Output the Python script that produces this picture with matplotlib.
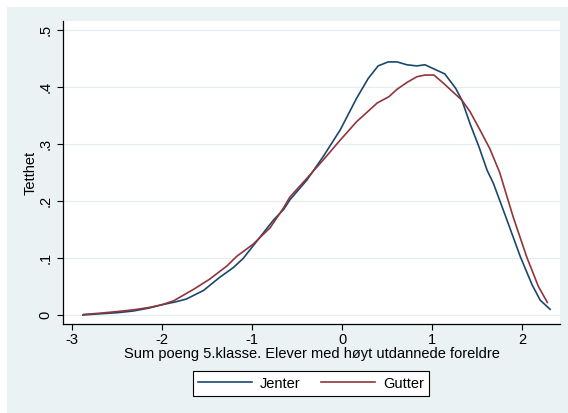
import matplotlib
matplotlib.use("Agg")
import matplotlib.pyplot as plt
from matplotlib.patches import Rectangle
import numpy as np

plt.rcParams['font.family'] = ['Liberation Sans', 'DejaVu Sans']

# Kernel density estimates, score sum grade 5, pupils with highly educated parents
jenter_x = [-2.88, -2.7, -2.5, -2.32, -2.15, -2.0, -1.85, -1.73, -1.54, -1.36, -1.21,
            -1.1, -1.02, -0.91, -0.76, -0.65, -0.58, -0.39, -0.21, -0.02, 0.16, 0.29,
            0.40, 0.51, 0.61, 0.72, 0.83, 0.92, 1.03, 1.14, 1.26, 1.33, 1.42, 1.52,
            1.61, 1.68, 1.83, 1.98, 2.11, 2.2, 2.31]
jenter_y = [0.0, 0.002, 0.004, 0.007, 0.012, 0.018, 0.023, 0.028, 0.043, 0.066, 0.083,
            0.099, 0.115, 0.137, 0.167, 0.185, 0.202, 0.237, 0.278, 0.325, 0.380, 0.415,
            0.437, 0.444, 0.444, 0.439, 0.437, 0.439, 0.431, 0.423, 0.398, 0.377, 0.336, 0.295,
            0.254, 0.231, 0.167, 0.102, 0.053, 0.026, 0.010]

gutter_x = [-2.87, -2.7, -2.5, -2.32, -2.15, -2.0, -1.87, -1.65, -1.47, -1.28, -1.17,
            -0.99, -0.8, -0.65, -0.58, -0.39, -0.21, -0.02, 0.16, 0.39, 0.52, 0.61,
            0.72, 0.83, 0.92, 1.02, 1.13, 1.24, 1.33, 1.42, 1.53, 1.64, 1.75, 1.90,
            2.05, 2.18, 2.28]
gutter_y = [0.001, 0.003, 0.006, 0.009, 0.013, 0.018, 0.025, 0.045, 0.063, 0.086, 0.103,
            0.124, 0.153, 0.188, 0.207, 0.240, 0.272, 0.307, 0.339, 0.372, 0.383, 0.396,
            0.408, 0.418, 0.421, 0.421, 0.406, 0.390, 0.377, 0.357, 0.325, 0.292, 0.250, 0.172,
            0.102, 0.050, 0.022]

x_ticks = [-3, -2, -1, 0, 1, 2]
x_ticklabels = ['-3', '-2', '-1', '0', '1', '2']
y_ticks = [0, 0.1, 0.2, 0.3, 0.4, 0.5]
y_ticklabels = ['0', '.1', '.2', '.3', '.4', '.5']

W, H = 568, 413
FS = 10.5
fig = plt.figure(figsize=(W / 100, H / 100), dpi=100)
fig.patch.set_facecolor('white')

BG = '#EAF2F3'
fig.patches.append(Rectangle((7 / W, 0), 1 - 7 / W, (H - 7) / H,
                             transform=fig.transFigure, facecolor=BG,
                             edgecolor='none', zorder=-5))

left, right, top, bottom = 63, 560, 21, 324
ax = fig.add_axes([left / W, (H - bottom) / H, (right - left) / W, (bottom - top) / H])
ax.set_facecolor('white')

NAVY = '#1A476F'
MAROON = '#90353B'
ax.plot(jenter_x, jenter_y, color=NAVY, lw=1.2, label='Jenter', zorder=3)
ax.plot(gutter_x, gutter_y, color=MAROON, lw=1.2, label='Gutter', zorder=3)

ax.set_xlim(-3.1, 2.42)
ax.set_ylim(-0.0158, 0.5158)

ax.set_xticks(x_ticks)
ax.set_xticklabels(x_ticklabels)
ax.set_yticks(y_ticks)
ax.set_yticklabels(y_ticklabels, rotation=90, va='center')

for s in ('top', 'right'):
    ax.spines[s].set_visible(False)
for s in ('left', 'bottom'):
    ax.spines[s].set_color('black')
    ax.spines[s].set_linewidth(0.9)

ax.tick_params(axis='both', direction='out', length=4.3, width=0.8, colors='black',
               labelsize=FS, pad=2)
ax.tick_params(axis='y', pad=3)
ax.yaxis.grid(True, color='#E3ECEE', lw=0.8)
ax.set_axisbelow(True)

ax.set_xlabel('Sum poeng 5.klasse. Elever med høyt utdannede foreldre', fontsize=FS, labelpad=0)
ax.set_ylabel('Tetthet', fontsize=FS, labelpad=1)

leg = fig.legend(loc='center', bbox_to_anchor=(311 / W, (H - 383.5) / H), ncol=2,
                 fontsize=FS, frameon=True, fancybox=False, framealpha=1,
                 handlelength=3.7, handletextpad=0.55, columnspacing=1.45,
                 borderpad=0.35)
leg.get_frame().set_edgecolor('black')
leg.get_frame().set_linewidth(0.8)
leg.get_frame().set_facecolor('white')

fig.savefig('out.png', dpi=100, facecolor=fig.get_facecolor())
